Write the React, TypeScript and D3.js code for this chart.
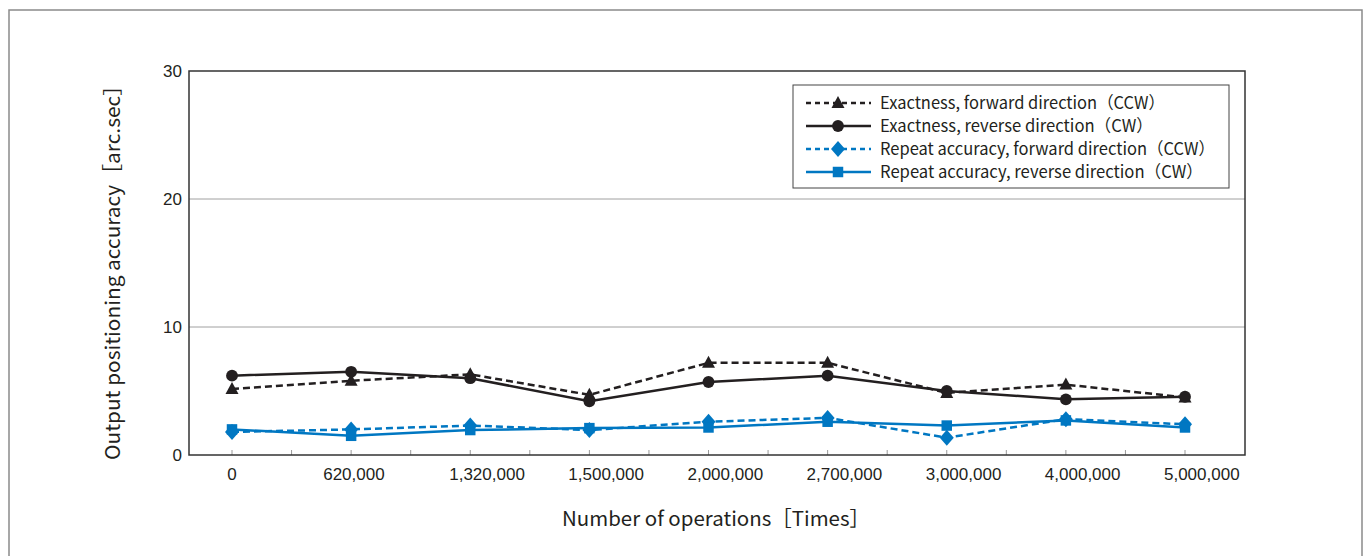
import React from "react";
import * as d3 from "d3";

const categories = ["0", "620,000", "1,320,000", "1,500,000", "2,000,000", "2,700,000", "3,000,000", "4,000,000", "5,000,000"];
const exactForward = [5.15, 5.8, 6.3, 4.7, 7.2, 7.2, 4.85, 5.5, 4.5];
const exactReverse = [6.2, 6.5, 6.0, 4.2, 5.7, 6.2, 5.0, 4.35, 4.55];
const repeatForward = [1.8, 2.0, 2.3, 1.95, 2.6, 2.9, 1.35, 2.8, 2.4];
const repeatReverse = [2.0, 1.5, 1.95, 2.1, 2.15, 2.6, 2.3, 2.7, 2.15];
const yTicks = [0, 10, 20, 30];

const BLACK = "#231f20";
const BLUE = "#0077c2";

const seriesList = [
  { name: "Exactness, forward direction（CCW）", values: exactForward, color: BLACK, dashed: true, marker: "triangle", len: 285 },
  { name: "Exactness, reverse direction（CW）", values: exactReverse, color: BLACK, dashed: false, marker: "circle", len: 273 },
  { name: "Repeat accuracy, forward direction（CCW）", values: repeatForward, color: BLUE, dashed: true, marker: "diamond", len: 335 },
  { name: "Repeat accuracy, reverse direction（CW）", values: repeatReverse, color: BLUE, dashed: false, marker: "square", len: 323 },
];

const W = 1365;
const H = 556;
const plot = { left: 189, top: 71, right: 1245, bottom: 455 };

function markerPath(kind: string) {
  if (kind === "diamond") return "M0,-8L7,0L0,8L-7,0Z";
  if (kind === "triangle") return "M0,-7L6.5,5L-6.5,5Z";
  const m: Record<string, any> = {
    circle: d3.symbol(d3.symbolCircle, 110),
    square: d3.symbol(d3.symbolSquare, 110),
  };
  return m[kind]();
}

export default function App() {
  const x = d3.scaleLinear().domain([0, categories.length - 1]).range([232, 1185]);
  const y = d3.scaleLinear().domain([0, 30]).range([plot.bottom, plot.top]);
  const line = d3
    .line<number>()
    .x((_, i) => x(i))
    .y((d) => y(d));

  const minorTicks = d3.range(0, categories.length - 0.5, 0.5);
  const tickFont = "'Liberation Sans', Arial, sans-serif";
  const jpFont = "'Noto Sans CJK JP', 'Noto Sans', sans-serif";

  const legend = { x: 793, y: 85, w: 436, h: 103 };
  const legendRows = [103, 126, 149, 172];

  return (
    <svg width={W} height={H} style={{ position: "absolute", left: 0, top: 0 }}>
      <rect x={0} y={0} width={W} height={H} fill="#fff" />
      <rect x={9} y={10} width={1353} height={560} fill="none" stroke="#8a8a8a" strokeWidth={1.5} />

      {yTicks.filter((t) => t > 0 && t < 30).map((t) => (
        <line key={t} x1={plot.left} x2={plot.right} y1={y(t)} y2={y(t)} stroke="#a0a0a0" strokeWidth={1} />
      ))}

      {minorTicks.map((t) => (
        <line key={t} x1={x(t)} x2={x(t)} y1={plot.bottom} y2={plot.bottom - 5} stroke="#999" strokeWidth={1} />
      ))}

      <rect x={plot.left} y={plot.top} width={plot.right - plot.left} height={plot.bottom - plot.top} fill="none" stroke="#333" strokeWidth={1.5} />

      {yTicks.map((t) => (
        <text key={t} x={182} y={y(t) + 6} textAnchor="end" fontFamily={tickFont} fontSize={17} fill="#231f20">
          {t}
        </text>
      ))}

      {categories.map((c, i) => (
        <text
          key={c}
          x={x(i) + Math.max(0, (c.length - 6.6) * 7)}
          y={480}
          textAnchor="middle"
          fontFamily={tickFont}
          fontSize={17}
          fill="#231f20"
        >
          {c}
        </text>
      ))}

      {seriesList.map((s) => (
        <g key={s.name}>
          <path
            d={line(s.values) || ""}
            fill="none"
            stroke={s.color}
            strokeWidth={2.5}
            strokeDasharray={s.dashed ? "7,4" : undefined}
          />
          {s.values.map((v, i) => (
            <path key={i} d={markerPath(s.marker)} transform={`translate(${x(i)},${y(v)})`} fill={s.color} />
          ))}
        </g>
      ))}

      <rect x={legend.x} y={legend.y} width={legend.w} height={legend.h} fill="#fff" stroke="#444" strokeWidth={1} />
      {seriesList.map((s, i) => (
        <g key={s.name} transform={`translate(0,${legendRows[i]})`}>
          <line x1={806} x2={871} y1={0} y2={0} stroke={s.color} strokeWidth={2.5} strokeDasharray={s.dashed ? "5,4" : undefined} />
          <path d={markerPath(s.marker)} transform={`translate(838,0)`} fill={s.color} />
          <text x={880} y={6} fontFamily={jpFont} fontSize={17} fill="#231f20" textLength={s.len} lengthAdjust="spacingAndGlyphs">
            {s.name}
          </text>
        </g>
      ))}

      <text x={562} y={526} fontFamily={jpFont} fontSize={20} fill="#231f20" textLength={308} lengthAdjust="spacingAndGlyphs">
        Number of operations［Times］
      </text>
      <text
        transform={`translate(120,460) rotate(-90)`}
        fontFamily={jpFont}
        fontSize={20}
        fill="#231f20"
        textLength={385}
        lengthAdjust="spacingAndGlyphs"
      >
        Output positioning accuracy［arc.sec］
      </text>
    </svg>
  );
}
